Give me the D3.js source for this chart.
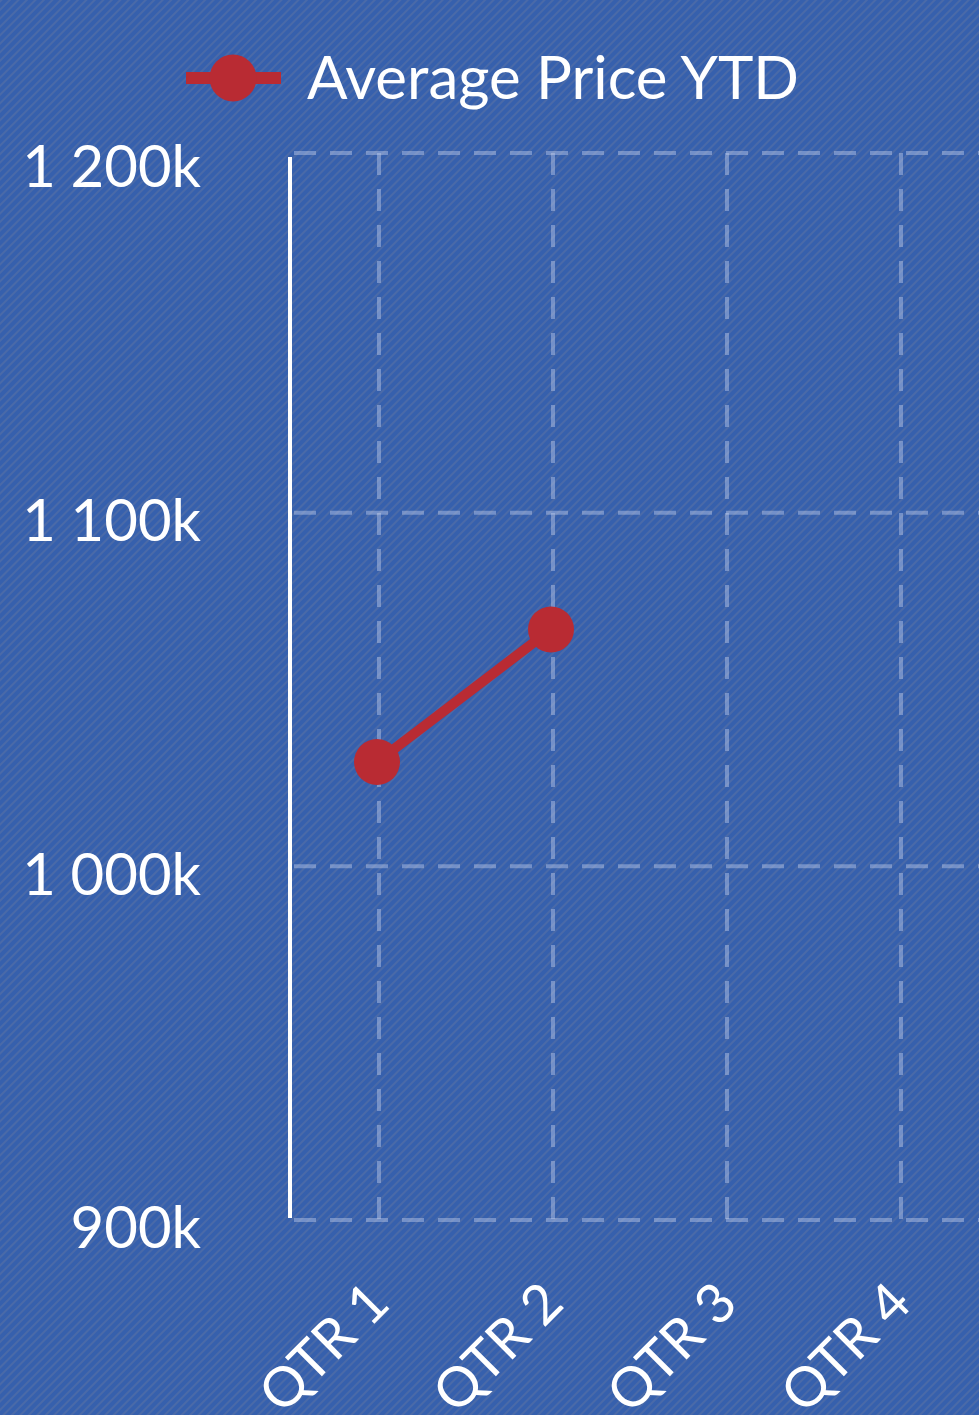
<!DOCTYPE html>
<html>
<head>
<meta charset="utf-8">
<script src="https://cdn.jsdelivr.net/npm/d3@7"></script>
<style>
  html, body { margin: 0; padding: 0; background: #3761ad; }
  svg { display: block; font-family: Lato, "Open Sans", sans-serif; }
</style>
</head>
<body>
<svg id="chart" width="979" height="1415"></svg>
<script>
const quarters = ['QTR 1', 'QTR 2', 'QTR 3', 'QTR 4']
const avgPrice = [1029.5, 1067]   // k, only first two quarters reported
const yTicks = [900, 1000, 1100, 1200]
const seriesName = 'Average Price YTD'

const W = 979, H = 1415
const red = '#b92b33'
const svg = d3.select('#chart')

// striped background
const defs = svg.append('defs')
const pat = defs.append('pattern')
  .attr('id', 'stripes')
  .attr('width', 6).attr('height', 6)
  .attr('patternUnits', 'userSpaceOnUse')
  .attr('patternTransform', 'rotate(45)')
pat.append('rect').attr('width', 6).attr('height', 6).attr('fill', '#3660ad')
pat.append('rect').attr('width', 2).attr('height', 6).attr('fill', '#4a6aa8')
svg.append('rect').attr('width', W).attr('height', H).attr('fill', 'url(#stripes)')

const plotLeft = 290, plotTop = 153, plotBottom = 1220
const x = d3.scaleBand().domain(quarters).range([plotLeft, plotLeft + 4 * 174]).padding(0)
const y = d3.scaleLinear().domain([900, 1200]).range([plotBottom, 159])
const cx = q => x(q) + x.bandwidth() / 2

// grid
const grid = svg.append('g')
  .attr('stroke', 'rgba(190,205,235,0.45)')
  .attr('stroke-width', 4)
  .attr('stroke-dasharray', '22,14')
  .attr('fill', 'none')
grid.selectAll('.hg').data([plotTop].concat(yTicks.slice(0, 3).map(y)))
  .join('line')
  .attr('x1', plotLeft + 4).attr('x2', W)
  .attr('y1', d => d).attr('y2', d => d)
grid.selectAll('.vg').data(quarters)
  .join('line')
  .attr('x1', d => cx(d) + 2).attr('x2', d => cx(d) + 2)
  .attr('y1', plotTop).attr('y2', plotBottom)

// y axis line
svg.append('line')
  .attr('x1', plotLeft).attr('x2', plotLeft)
  .attr('y1', plotTop + 4).attr('y2', plotBottom - 2)
  .attr('stroke', '#fff').attr('stroke-width', 4)

// y labels
svg.append('g').selectAll('text').data(yTicks)
  .join('text')
  .attr('x', 201)
  .attr('y', d => y(d) + 8)
  .attr('dy', '0.35em')
  .attr('text-anchor', 'end')
  .attr('fill', '#fff')
  .attr('font-size', 58)
  .text(d => d3.format(',')(d).replace(',', ' ') + 'k')

// x labels
svg.append('g').selectAll('text').data(quarters)
  .join('text')
  .attr('transform', d => `translate(${cx(d) + 15},1306) rotate(-45)`)
  .attr('text-anchor', 'end')
  .attr('fill', '#fff')
  .attr('font-size', 55)
  .text(d => d)

// series
const pts = avgPrice.map((v, i) => ({ q: quarters[i], v }))
svg.append('path')
  .datum(pts)
  .attr('fill', 'none')
  .attr('stroke', red)
  .attr('stroke-width', 10)
  .attr('d', d3.line().x(d => cx(d.q)).y(d => y(d.v)))
svg.append('g').selectAll('circle').data(pts)
  .join('circle')
  .attr('cx', d => cx(d.q))
  .attr('cy', d => y(d.v))
  .attr('r', 23)
  .attr('fill', red)

// legend
const lg = svg.append('g')
lg.append('line').attr('x1', 186).attr('x2', 281).attr('y1', 78).attr('y2', 78)
  .attr('stroke', red).attr('stroke-width', 12)
lg.append('circle').attr('cx', 233).attr('cy', 78).attr('r', 23.5).attr('fill', red)
lg.append('text').attr('x', 307).attr('y', 78).attr('dy', '0.35em')
  .attr('fill', '#fff').attr('font-size', 60).text(seriesName)
</script>
</body>
</html>
